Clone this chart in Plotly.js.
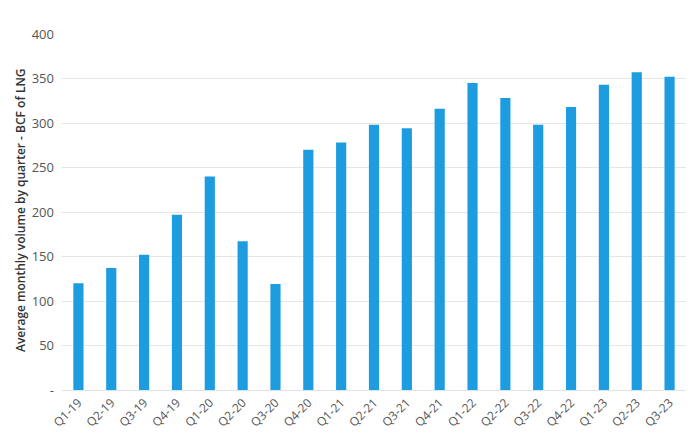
<!DOCTYPE html>
<html>
<head>
<meta charset="utf-8">
<script src="https://cdn.plot.ly/plotly-3.0.1.min.js"></script>
<style>html,body{margin:0;padding:0;background:#fff;}#chart{width:700px;height:447px;}</style>
</head>
<body>
<div id="chart"></div>
<script>
const quarters = ["Q1-19","Q2-19","Q3-19","Q4-19","Q1-20","Q2-20","Q3-20","Q4-20","Q1-21","Q2-21","Q3-21","Q4-21","Q1-22","Q2-22","Q3-22","Q4-22","Q1-23","Q2-23","Q3-23"];
const volumes = [120,137,152,197,240,167,119,270,278,298,294,316,345,328,298,318,343,357,352];
const yTickVals = [0,50,100,150,200,250,300,350,400];
const yTickText = ["-","50","100","150","200","250","300","350","400"];
const yTitle = "Average monthly volume by quarter - BCF of LNG";

const trace = {
  type: "bar",
  x: quarters,
  y: volumes,
  marker: {color: "#1d9ddf"},
  hoverinfo: "x+y"
};

const fontFam = "'Open Sans', Lato, sans-serif";

const layout = {
  width: 700,
  height: 447,
  margin: {l: 62, r: 14, t: 34, b: 57},
  paper_bgcolor: "#fff",
  plot_bgcolor: "#fff",
  bargap: 0.69,
  showlegend: false,
  font: {family: fontFam, color: "#555"},
  xaxis: {
    type: "category",
    tickangle: -45,
    tickfont: {size: 12, color: "#555", family: fontFam},
    showgrid: false,
    showline: true,
    linecolor: "#e3e3e3",
    linewidth: 1,
    ticks: "",
    automargin: false
  },
  yaxis: {
    range: [0, 400],
    tickvals: yTickVals,
    ticktext: yTickText,
    tickfont: {size: 13, color: "#555", family: fontFam},
    showgrid: true,
    gridcolor: "#e6e6e6",
    gridwidth: 1,
    zeroline: false,
    showline: false,
    ticks: "",
    ticklabelstandoff: 7,
    automargin: false
  },
  annotations: [{
    text: yTitle,
    xref: "paper", yref: "paper",
    x: 0, y: 0.5,
    xshift: -42, yshift: 2,
    xanchor: "center", yanchor: "middle",
    textangle: -90,
    showarrow: false,
    font: {size: 12, color: "#333", family: fontFam, weight: 600}
  }]
};

Plotly.newPlot("chart", [trace], layout, {displayModeBar: false, staticPlot: true});
</script>
</body>
</html>
